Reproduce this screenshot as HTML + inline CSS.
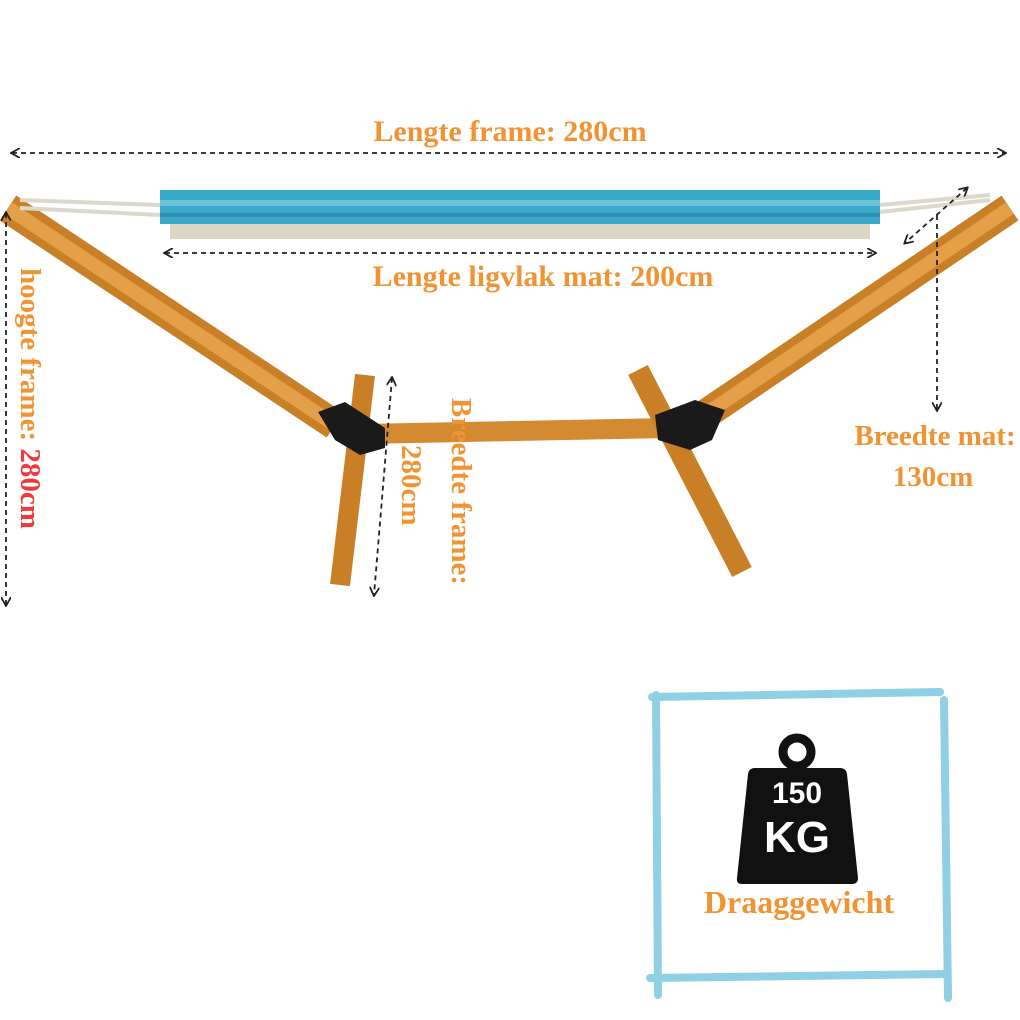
<!DOCTYPE html>
<html><head><style>
html,body{margin:0;padding:0;background:#fff}
svg{display:block}
.t{font-family:"Liberation Serif",serif;font-weight:bold;fill:#f19332}
</style></head><body>
<svg width="1020" height="1020" viewBox="0 0 1020 1020" xmlns="http://www.w3.org/2000/svg">
<defs>
<marker id="a" markerWidth="10" markerHeight="10" refX="8" refY="5" orient="auto-start-reverse" markerUnits="userSpaceOnUse"><path d="M0,0 L9,5 L0,10" fill="none" stroke="#222" stroke-width="1.8"/></marker>
</defs>
<rect width="1020" height="1020" fill="#fff"/>
<g stroke-linecap="butt">
<line x1="8" y1="208" x2="335" y2="425" stroke="#c97f26" stroke-width="30"/>
<line x1="8" y1="208" x2="335" y2="425" stroke="#e3a048" stroke-width="14"/>
<line x1="1010" y1="208" x2="700" y2="418" stroke="#c97f26" stroke-width="30"/>
<line x1="1010" y1="208" x2="700" y2="418" stroke="#e3a048" stroke-width="14"/>
<line x1="360" y1="434" x2="670" y2="428" stroke="#d48a30" stroke-width="20"/>
<line x1="365" y1="375" x2="340" y2="585" stroke="#c97f26" stroke-width="20"/>
<line x1="638" y1="370" x2="742" y2="572" stroke="#c97f26" stroke-width="22"/>
</g>
<polygon points="318,412 345,402 385,428 385,448 360,455 335,440" fill="#1a1a1a"/>
<polygon points="655,415 695,400 725,410 712,440 690,450 658,440" fill="#1a1a1a"/>
<path d="M20,200 L160,205 M20,208 L160,215 M880,205 L990,195 M880,212 L990,200" stroke="#ddd8cc" stroke-width="4"/>
<rect x="160" y="190" width="720" height="34" fill="#3aa9c9"/>
<rect x="160" y="200" width="720" height="6" fill="#6cc3dc"/>
<rect x="160" y="213" width="720" height="4" fill="#2a8fb0"/>
<rect x="170" y="224" width="700" height="15" fill="#d9d6c3"/>
<g stroke="#222" stroke-width="1.8" stroke-dasharray="5,4" fill="none">
<line x1="12" y1="153" x2="1005" y2="153" marker-end="url(#a)" marker-start="url(#a)"/>
<line x1="165" y1="253" x2="875" y2="253" marker-end="url(#a)" marker-start="url(#a)"/>
<line x1="6" y1="213" x2="6" y2="605" marker-end="url(#a)" marker-start="url(#a)"/>
<line x1="392" y1="378" x2="374" y2="595" marker-end="url(#a)" marker-start="url(#a)"/>
<line x1="967" y1="188" x2="905" y2="243" marker-end="url(#a)" marker-start="url(#a)"/>
<line x1="937" y1="215" x2="937" y2="410" marker-end="url(#a)"/>
</g>
<text class="t" x="510" y="141" font-size="30" text-anchor="middle">Lengte frame: 280cm</text>
<text class="t" x="543" y="286" font-size="30" text-anchor="middle">Lengte ligvlak mat: 200cm</text>
<text class="t" x="935" y="445" font-size="29" text-anchor="middle">Breedte mat:</text>
<text class="t" x="933" y="486" font-size="29" text-anchor="middle">130cm</text>
<text class="t" font-size="29" transform="translate(21,268) rotate(90)">hoogte frame: <tspan fill="#ee3a3a">280cm</tspan></text>
<text class="t" font-size="29" transform="translate(452,398) rotate(90)">Breedte frame:</text>
<text class="t" font-size="29" transform="translate(402,445) rotate(90)">280cm</text>
<g stroke="#8fd0e4" stroke-width="8" fill="none" stroke-linecap="round">
<path d="M652,697 L940,692"/><path d="M656,695 L658,995"/><path d="M944,700 L948,998"/><path d="M650,978 L946,974"/>
</g>
<circle cx="797" cy="752" r="14" fill="none" stroke="#111" stroke-width="9"/>
<path d="M755,768 L840,768 Q846,768 847,774 L858,878 Q858,884 852,884 L742,884 Q736,884 737,878 L748,774 Q749,768 755,768 Z" fill="#111"/>
<text x="797" y="803" font-family="Liberation Sans,sans-serif" font-weight="bold" font-size="30" fill="#fff" text-anchor="middle">150</text>
<text x="797" y="852" font-family="Liberation Sans,sans-serif" font-weight="bold" font-size="44" fill="#fff" text-anchor="middle">KG</text>
<text class="t" x="799" y="913" font-size="32" text-anchor="middle">Draaggewicht</text>
</svg>
</body></html>
